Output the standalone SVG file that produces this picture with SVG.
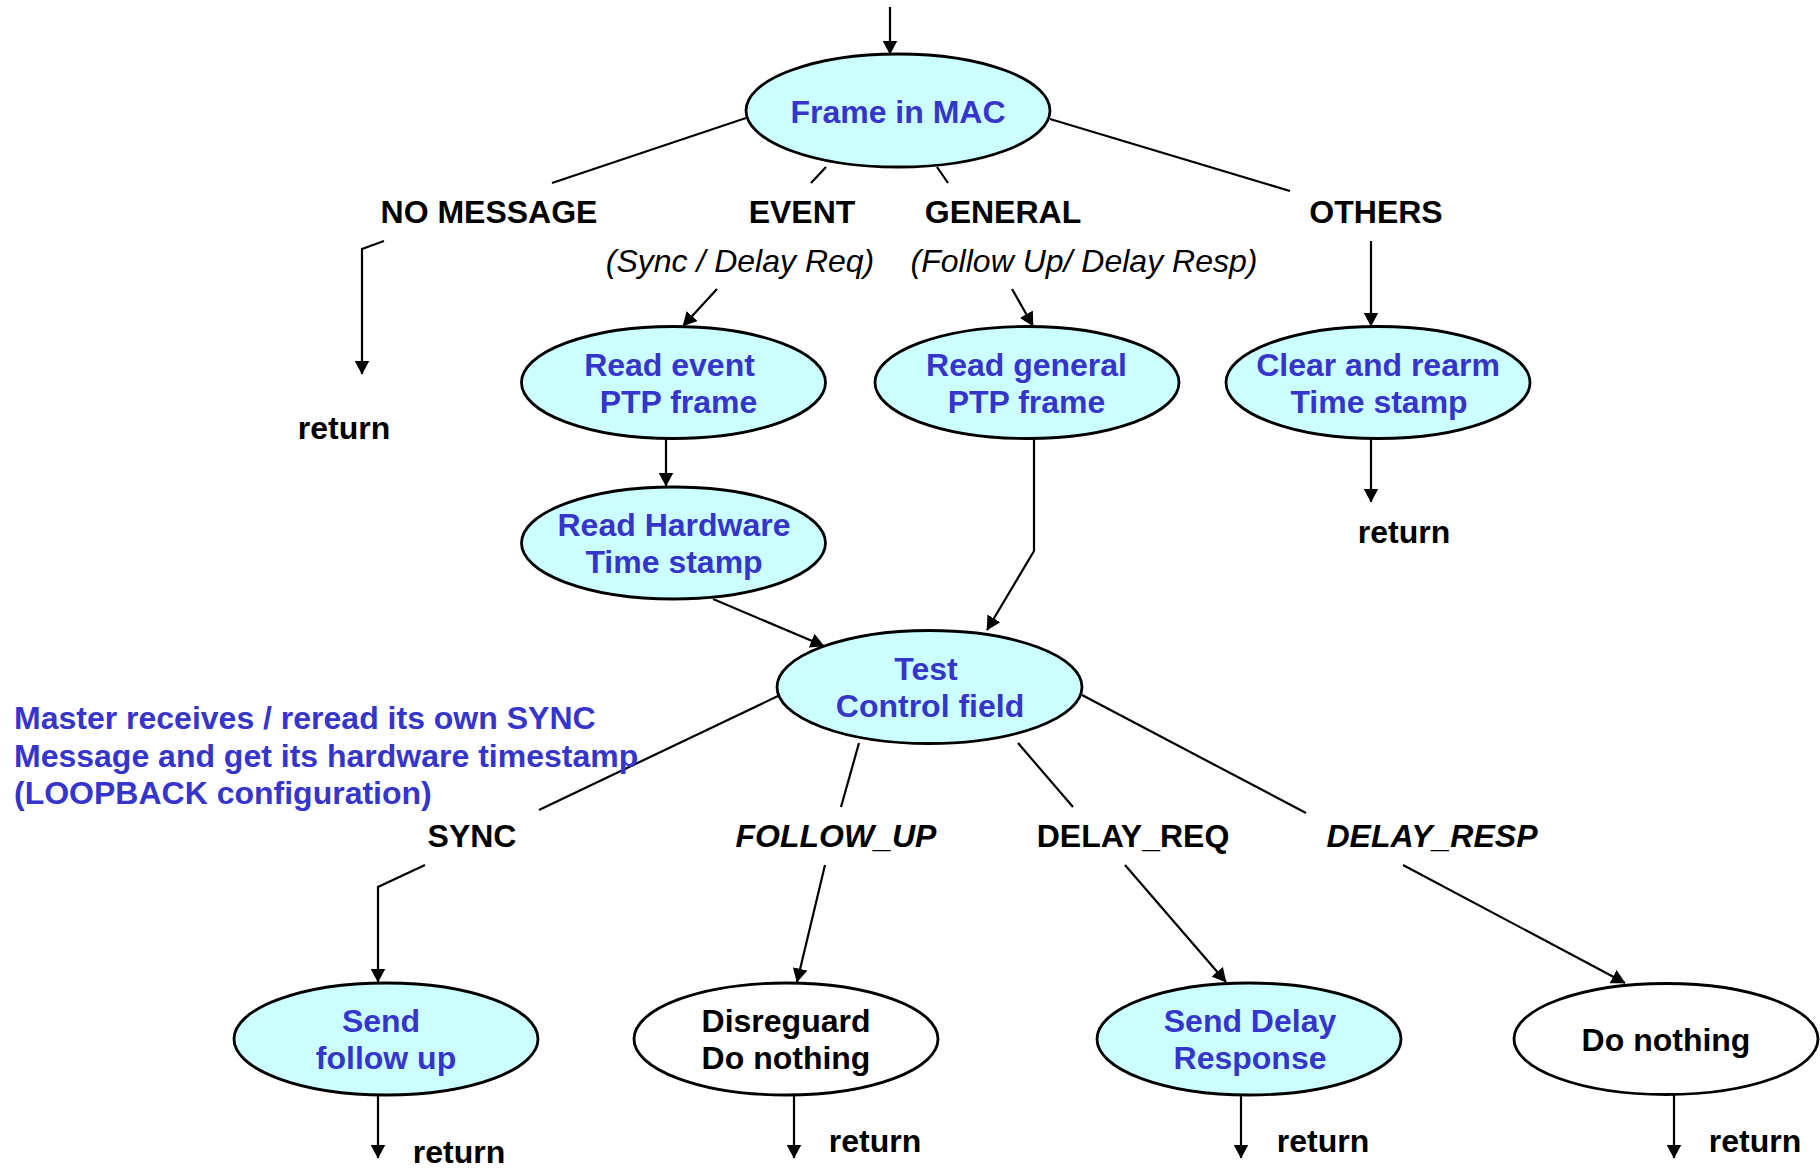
<svg xmlns="http://www.w3.org/2000/svg" width="1820" height="1170" viewBox="0 0 1820 1170">
  <style>
    .bg { fill: #ffffff; }
    .node { stroke: #000000; stroke-width: 2.8; }
    .cyan { fill: #ccffff; }
    .white { fill: #ffffff; }
    .ntext { font-family: "Liberation Sans", Arial, sans-serif; font-size: 32px; font-weight: bold; text-anchor: middle; }
    .blue { fill: #3535cc; }
    .black { fill: #000000; }
    .label { font-family: "Liberation Sans", Arial, sans-serif; font-size: 32px; font-weight: bold; fill: #000000; text-anchor: middle; }
    .italic { font-style: italic; }
    .sub { font-family: "Liberation Sans", Arial, sans-serif; font-size: 32px; font-style: italic; fill: #000000; text-anchor: middle; }
    .note { font-family: "Liberation Sans", Arial, sans-serif; font-size: 32px; font-weight: bold; fill: #3535cc; }
    .edge { fill: none; stroke: #000000; stroke-width: 2.2; }
    .arrow { marker-end: url(#head); }
  </style>
  <defs>
    <marker id="head" markerUnits="userSpaceOnUse" markerWidth="15" markerHeight="15" refX="13.5" refY="7.5" orient="auto">
      <path d="M0,0 L14,7.5 L0,15 Z" fill="#000000"/>
    </marker>
  </defs>

  <rect class="bg" x="0" y="0" width="1820" height="1170"/>

  <!-- connectors -->
  <g id="connectors">
    <path class="edge arrow" d="M890,7 L890,54"/>
    <!-- branches out of Frame in MAC -->
    <path class="edge" d="M746,118 L552,183"/>
    <path class="edge" d="M826,167 L811,183"/>
    <path class="edge" d="M937,167 L948,183"/>
    <path class="edge" d="M1050,119 L1290,191"/>
    <!-- NO MESSAGE -> return -->
    <path class="edge arrow" d="M384,241 L362,249 L362,374"/>
    <!-- EVENT / GENERAL / OTHERS -->
    <path class="edge arrow" d="M717,289 L683,326"/>
    <path class="edge arrow" d="M1012,289 L1033,326"/>
    <path class="edge arrow" d="M1371,241 L1371,326"/>
    <path class="edge arrow" d="M1371,439 L1371,502"/>
    <!-- into Read Hardware and Test -->
    <path class="edge arrow" d="M666,439 L666,486"/>
    <path class="edge arrow" d="M713,599 L824,646"/>
    <path class="edge arrow" d="M1034,439 L1034,551 L987,630"/>
    <!-- branches out of Test Control field -->
    <path class="edge" d="M778,696 L539,810"/>
    <path class="edge" d="M859,743 L841,807"/>
    <path class="edge" d="M1018,743 L1073,807"/>
    <path class="edge" d="M1082,695 L1306,813"/>
    <!-- message type -> action -->
    <path class="edge arrow" d="M425,865 L378,887 L378,982"/>
    <path class="edge arrow" d="M825,865 L797,982"/>
    <path class="edge arrow" d="M1125,865 L1226,982"/>
    <path class="edge arrow" d="M1403,865 L1625,983"/>
    <!-- action -> return -->
    <path class="edge arrow" d="M378,1095 L378,1158"/>
    <path class="edge arrow" d="M794,1095 L794,1158"/>
    <path class="edge arrow" d="M1241,1095 L1241,1158"/>
    <path class="edge arrow" d="M1674,1095 L1674,1158"/>
  </g>

  <!-- nodes -->
  <g id="n-frame-in-mac">
    <ellipse class="node cyan" cx="898" cy="110.5" rx="152" ry="56.5"/>
    <text class="ntext blue" x="898" y="123">Frame in MAC</text>
  </g>
  <g id="n-read-event">
    <ellipse class="node cyan" cx="673.5" cy="382.5" rx="152" ry="56"/>
    <text class="ntext blue" x="669.5" y="375.5">Read event</text>
    <text class="ntext blue" x="678.5" y="412.5">PTP frame</text>
  </g>
  <g id="n-read-general">
    <ellipse class="node cyan" cx="1027" cy="382.5" rx="152" ry="56"/>
    <text class="ntext blue" x="1026.5" y="375.5">Read general</text>
    <text class="ntext blue" x="1026.5" y="412.5">PTP frame</text>
  </g>
  <g id="n-clear-rearm">
    <ellipse class="node cyan" cx="1378" cy="382.5" rx="152" ry="56"/>
    <text class="ntext blue" x="1378" y="375.5">Clear and rearm</text>
    <text class="ntext blue" x="1379" y="412.5">Time stamp</text>
  </g>
  <g id="n-read-hardware">
    <ellipse class="node cyan" cx="673.5" cy="543" rx="152" ry="56"/>
    <text class="ntext blue" x="674" y="536">Read Hardware</text>
    <text class="ntext blue" x="674" y="573">Time stamp</text>
  </g>
  <g id="n-test-control">
    <ellipse class="node cyan" cx="929.5" cy="687" rx="152.5" ry="56.5"/>
    <text class="ntext blue" x="926" y="680">Test</text>
    <text class="ntext blue" x="930" y="717">Control field</text>
  </g>
  <g id="n-send-follow-up">
    <ellipse class="node cyan" cx="386" cy="1039" rx="152" ry="56"/>
    <text class="ntext blue" x="381" y="1032">Send</text>
    <text class="ntext blue" x="386" y="1068.5">follow up</text>
  </g>
  <g id="n-disregard">
    <ellipse class="node white" cx="786" cy="1039" rx="152" ry="56"/>
    <text class="ntext black" x="786" y="1032">Disreguard</text>
    <text class="ntext black" x="786" y="1068.5">Do nothing</text>
  </g>
  <g id="n-send-delay-resp">
    <ellipse class="node cyan" cx="1249" cy="1039" rx="152" ry="56"/>
    <text class="ntext blue" x="1250" y="1032">Send Delay</text>
    <text class="ntext blue" x="1250" y="1068.5">Response</text>
  </g>
  <g id="n-do-nothing">
    <ellipse class="node white" cx="1666" cy="1039" rx="152" ry="55.5"/>
    <text class="ntext black" x="1666" y="1050.5">Do nothing</text>
  </g>

  <!-- branch labels -->
  <g id="labels">
    <text class="label" x="489" y="223">NO MESSAGE</text>
    <text class="label" x="802" y="223">EVENT</text>
    <text class="label" x="1003" y="223">GENERAL</text>
    <text class="label" x="1376" y="223">OTHERS</text>
    <text class="sub" x="740" y="272">(Sync / Delay Req)</text>
    <text class="sub" x="1084" y="272">(Follow Up/ Delay Resp)</text>
    <text class="label" x="344" y="439">return</text>
    <text class="label" x="1404" y="543">return</text>
    <text class="label" x="472" y="847">SYNC</text>
    <text class="label italic" x="836" y="847">FOLLOW_UP</text>
    <text class="label" x="1133" y="847">DELAY_REQ</text>
    <text class="label italic" x="1432" y="847">DELAY_RESP</text>
    <text class="label" x="459" y="1163">return</text>
    <text class="label" x="875" y="1152">return</text>
    <text class="label" x="1323" y="1152">return</text>
    <text class="label" x="1755" y="1152">return</text>
  </g>

  <!-- loopback note -->
  <g id="note-loopback">
    <text class="note" x="14" y="729">Master receives / reread its own SYNC</text>
    <text class="note" x="14" y="767">Message and get its hardware timestamp</text>
    <text class="note" x="14" y="804">(LOOPBACK configuration)</text>
  </g>
</svg>
